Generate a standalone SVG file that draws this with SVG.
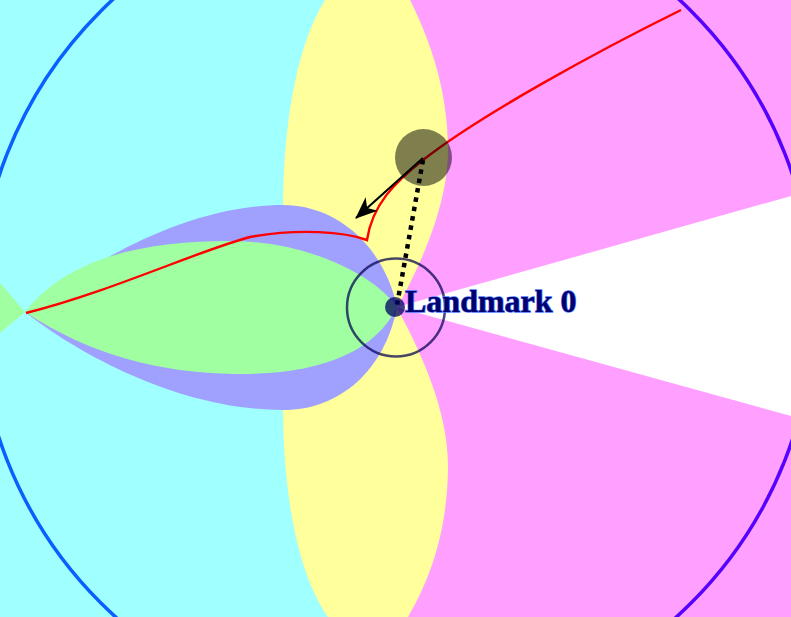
<svg xmlns="http://www.w3.org/2000/svg" width="791" height="617" viewBox="0 0 791 617">
<style>
.red{fill:none;stroke:#ff0000;stroke-width:2.4}
.lbl{font-family:"Liberation Serif","Times New Roman",serif;font-weight:bold;font-size:32px;fill:#00006e;stroke:#4a78ff;stroke-width:1.3;paint-order:stroke}
</style>
<defs>
<linearGradient id="rim" gradientUnits="userSpaceOnUse" x1="0" y1="0" x2="791" y2="0">
<stop offset="0.3" stop-color="#0a60ff"/>
<stop offset="0.7" stop-color="#5500ff"/>
</linearGradient>
<marker id="ah" markerUnits="userSpaceOnUse" viewBox="0 0 22 18" markerWidth="22" markerHeight="18" refX="21" refY="9" orient="auto">
<path d="M0,0 L22,9 L0,18 L6,9 Z" fill="#000"/>
</marker>
</defs>
<g id="regions">
<rect x="0" y="0" width="791" height="617" fill="#a0ffff"/>
<rect x="396" y="0" width="395" height="617" fill="#ff9fff"/>
<path fill="#ffff9c" d="M325,0 C300,40 284,110 283,205 L283,412 C284,505 300,577 328,617 L408,617 C430,580 448,530 448,465 C448,410 420,350 397,308 C420,266 448,206 448,150 C448,90 430,40 410,0 Z"/>
<polygon fill="#ffffff" points="397,307 791,196 791,416"/>
<path fill="#a0a0ff" d="M25,312 C80,270 180,205 283,205 C340,205 385,250 397,307 C385,370 340,410 283,410 C180,410 80,355 25,312 Z"/>
<path fill="#a0ffa0" d="M25,312 C70,255 150,241 230,241 C300,241 370,270 397,307 C375,352 320,375 235,374 C160,373 90,355 25,312 Z"/>
<polygon fill="#a0ffa0" points="25,312 0,283 0,333"/>
<circle cx="396" cy="307" r="418" fill="none" stroke="url(#rim)" stroke-width="3.5"/>
</g>
<g id="connectors">
<path class="red" d="M681,10 C600,50 480,115 423,160 C395,182 372,205 367,240 C345,232 300,228 250,237 C200,250 110,292 26,313"/>
<line x1="423" y1="158" x2="356" y2="218" stroke="#000" stroke-width="2.2" marker-end="url(#ah)"/>
<line x1="423" y1="160" x2="397" y2="305" stroke="#000" stroke-width="4.5" stroke-dasharray="4.5 5"/>
</g>
<g id="landmark0">
<circle cx="396" cy="307.5" r="49" fill="none" stroke="#000050" stroke-opacity="0.72" stroke-width="2.5"/>
<circle cx="395" cy="307" r="10" fill="#000060" fill-opacity="0.75"/>
<text class="lbl" x="405" y="312">Landmark 0</text>
</g>
<g id="robot">
<circle cx="423.5" cy="157.5" r="28.5" fill="#000" fill-opacity="0.5"/>
</g>
</svg>
